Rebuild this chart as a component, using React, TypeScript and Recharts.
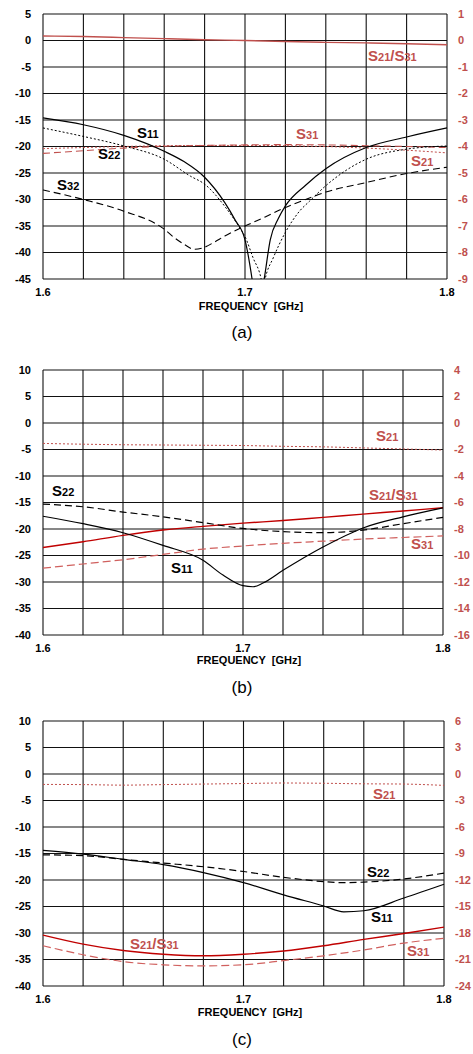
import React from "react";
import { LineChart, Line, XAxis, YAxis, CartesianGrid } from "recharts";

const FONT = '"Liberation Sans", Arial, sans-serif';
const RED_TEXT = "#c0504d";
const RED_DARK = "#c00000";

// x grid: every 20 MHz, only 1.6 / 1.7 / 1.8 are labelled
const freqTicks = [1.6, 1.62, 1.64, 1.66, 1.68, 1.7, 1.72, 1.74, 1.76, 1.78, 1.8];
const freqLabels = ["1.6", "1.7", "1.8"];
const freq = [1.6, 1.62, 1.64, 1.66, 1.68, 1.7, 1.72, 1.74, 1.76, 1.78, 1.8];

// panel (a) axes
const aLeftTicks = [-45, -40, -35, -30, -25, -20, -15, -10, -5, 0, 5];
const aRightTicks = [-9, -8, -7, -6, -5, -4, -3, -2, -1, 0, 1];

// panel (a) series, left axis [dB]
const aS11Freq = [1.6, 1.62, 1.64, 1.66, 1.67, 1.68, 1.69, 1.695, 1.7, 1.7035, 1.706, 1.7095, 1.7125, 1.7165, 1.72, 1.73, 1.74, 1.76, 1.78, 1.8];
const aS11 = [-14.6, -15.9, -17.9, -20.9, -22.9, -25.8, -30.6, -33.8, -37.6, -45, -52, -45, -37.6, -33.6, -31.2, -27.3, -24.2, -20.2, -18.2, -16.5];
const aS22Freq = [1.6, 1.62, 1.64, 1.66, 1.673, 1.68, 1.69, 1.6975, 1.7, 1.704, 1.708, 1.709, 1.71, 1.714, 1.72, 1.727, 1.732, 1.74, 1.76, 1.78, 1.8];
const aS22 = [-16.5, -18.1, -19.9, -22.4, -25.6, -27.1, -31.3, -35.4, -37.0, -41, -45, -47, -45, -41, -36.2, -32.2, -30.3, -27.4, -22.4, -20.5, -19.9];
const aS32Freq = [1.6, 1.62, 1.64, 1.66, 1.665, 1.67, 1.675, 1.68, 1.685, 1.69, 1.7, 1.71, 1.72, 1.73, 1.74, 1.76, 1.78, 1.8];
const aS32 = [-28.2, -30.0, -32.2, -35.6, -37.2, -38.5, -39.4, -39.0, -38.0, -36.9, -35.0, -33.3, -31.5, -30.0, -28.6, -26.8, -25.1, -23.9];
// panel (a) series, right axis [dB]
const aS21S31 = [0.17, 0.15, 0.11, 0.07, 0.03, 0.0, -0.04, -0.07, -0.09, -0.12, -0.16];
const aS31 = [-4.26, -4.16, -4.06, -3.99, -3.96, -3.94, -3.93, -3.94, -3.97, -4.0, -4.04];
const aS21 = [-4.08, -4.04, -4.0, -3.97, -3.96, -3.96, -3.97, -4.0, -4.06, -4.14, -4.24];

// panel (b)
const bLeftTicks = [-40, -35, -30, -25, -20, -15, -10, -5, 0, 5, 10];
const bRightTicks = [-16, -14, -12, -10, -8, -6, -4, -2, 0, 2, 4];
const bS11Freq = [1.6, 1.62, 1.64, 1.66, 1.68, 1.69, 1.7, 1.705, 1.71, 1.72, 1.74, 1.76, 1.78, 1.8];
const bS11 = [-17.6, -19.0, -20.7, -23.1, -25.9, -28.7, -30.7, -30.9, -30.2, -27.8, -23.4, -19.8, -17.7, -16.0];
const bS22 = [-15.3, -15.8, -16.8, -17.7, -18.8, -19.9, -20.5, -20.7, -20.2, -19.0, -17.8];
const bS21 = [-1.54, -1.6, -1.64, -1.66, -1.68, -1.7, -1.76, -1.8, -1.88, -1.96, -2.04];
const bS21S31 = [-9.4, -8.96, -8.48, -8.08, -7.8, -7.56, -7.36, -7.12, -6.88, -6.64, -6.4];
const bS31 = [-10.96, -10.64, -10.32, -9.92, -9.52, -9.28, -9.08, -8.92, -8.76, -8.64, -8.52];

// panel (c)
const cLeftTicks = [-40, -35, -30, -25, -20, -15, -10, -5, 0, 5, 10];
const cRightTicks = [-24, -21, -18, -15, -12, -9, -6, -3, 0, 3, 6];
const cS11Freq = [1.6, 1.62, 1.64, 1.66, 1.68, 1.7, 1.72, 1.74, 1.75, 1.76, 1.78, 1.8];
const cS11 = [-14.4, -15.1, -16.1, -17.1, -18.6, -20.5, -22.8, -24.9, -26.0, -25.8, -23.4, -20.8];
const cS22Freq = [1.6, 1.62, 1.64, 1.66, 1.68, 1.7, 1.72, 1.74, 1.75, 1.76, 1.78, 1.8];
const cS22 = [-15.25, -15.4, -16.1, -16.8, -17.5, -18.4, -19.5, -20.3, -20.5, -20.4, -19.8, -18.7];
const cS21 = [-1.18, -1.2, -1.26, -1.2, -1.14, -1.08, -1.02, -1.05, -1.11, -1.14, -1.29];
const cS21S31 = [-18.24, -19.26, -19.98, -20.4, -20.58, -20.4, -20.04, -19.44, -18.72, -18.06, -17.34];
const cS31 = [-19.44, -20.46, -21.24, -21.6, -21.72, -21.6, -21.12, -20.58, -19.92, -19.14, -18.6];

const pts = (fs: number[], vs: number[]) => fs.map((f, i) => ({ f, v: vs[i] }));

type Series = {
  name: string;
  data: { f: number; v: number }[];
  axis: "left" | "right";
  stroke: string;
  dash?: string;
  width?: number;
};

interface PanelProps {
  top: number;
  rightWidth: number;
  leftTicks: number[];
  rightTicks: number[];
  series: Series[];
  clip?: boolean;
}

const Panel: React.FC<PanelProps> = ({ top, rightWidth, leftTicks, rightTicks, series, clip }) => {
  const fmtX = (v: number) => {
    const s = v.toFixed(1);
    return Math.abs(v - Number(s)) < 1e-6 && (v < 1.61 || Math.abs(v - 1.7) < 1e-6 || v > 1.79) ? freqLabels[Math.round((v - 1.6) * 10)] : "";
  };
  return (
    <div style={{ position: "absolute", left: 0, top }}>
      <LineChart width={473} height={299} margin={{ top: 14, right: 0, bottom: 0, left: 0 }}>
        <CartesianGrid yAxisId="left" stroke="#111" strokeWidth={1.1} />
        <XAxis
          type="number"
          dataKey="f"
          domain={[1.6, 1.8]}
          ticks={freqTicks}
          interval={0}
          tickFormatter={fmtX}
          height={20}
          axisLine={false}
          tickLine={false}
          tickSize={0}
          tickMargin={9}
          tick={{ fill: "#000", fontSize: 11, fontWeight: "bold", fontFamily: FONT }}
        />
        <YAxis
          yAxisId="left"
          orientation="left"
          type="number"
          domain={[leftTicks[0], leftTicks[leftTicks.length - 1]]}
          ticks={leftTicks}
          interval={0}
          allowDataOverflow={clip}
          width={43}
          axisLine={false}
          tickLine={false}
          tickSize={0}
          tickMargin={12}
          tick={{ fill: "#000", fontSize: 11, fontWeight: "bold", fontFamily: FONT }}
        />
        <YAxis
          yAxisId="right"
          orientation="right"
          type="number"
          domain={[rightTicks[0], rightTicks[rightTicks.length - 1]]}
          ticks={rightTicks}
          interval={0}
          width={rightWidth}
          axisLine={false}
          tickLine={false}
          tickSize={0}
          tickMargin={11}
          tick={{ fill: RED_TEXT, fontSize: 11, fontWeight: "bold", fontFamily: FONT }}
        />
        {series.map((s) => (
          <Line
            key={s.name}
            name={s.name}
            data={s.data}
            dataKey="v"
            yAxisId={s.axis}
            type="monotone"
            stroke={s.stroke}
            strokeWidth={s.width ?? 1.2}
            strokeDasharray={s.dash}
            dot={false}
            activeDot={false}
            isAnimationActive={false}
          />
        ))}
      </LineChart>
    </div>
  );
};

const SLabel: React.FC<{ x: number; y: number; text: string; color?: string }> = ({ x, y, text, color = "#000" }) => {
  // "S21/S31" -> S + small digits
  const parts = text.split(/(\d+)/).filter(Boolean);
  return (
    <div
      style={{
        position: "absolute",
        left: x,
        top: y - 9,
        fontFamily: FONT,
        fontWeight: "bold",
        fontSize: 15,
        lineHeight: "18px",
        color,
        whiteSpace: "nowrap",
      }}
    >
      {parts.map((p, i) =>
        /\d/.test(p) ? (
          <span key={i} style={{ fontSize: 11 }}>{p}</span>
        ) : (
          <span key={i}>{p}</span>
        )
      )}
    </div>
  );
};

const Caption: React.FC<{ cx: number; y: number; text: string; size: number; bold?: boolean }> = ({ cx, y, text, size, bold }) => (
  <div
    style={{
      position: "absolute",
      left: cx - 100,
      width: 200,
      top: y - size * 0.6,
      textAlign: "center",
      fontFamily: FONT,
      fontSize: size,
      fontWeight: bold ? "bold" : "normal",
      lineHeight: `${Math.round(size * 1.2)}px`,
      color: "#000",
      whiteSpace: "pre",
    }}
  >
    {text}
  </div>
);

const seriesA: Series[] = [
  { name: "S21/S31", data: pts(freq, aS21S31), axis: "right", stroke: RED_TEXT, width: 1.4 },
  { name: "S31", data: pts(freq, aS31), axis: "right", stroke: RED_TEXT, dash: "7 4", width: 1.1 },
  { name: "S21", data: pts(freq, aS21), axis: "right", stroke: RED_TEXT, dash: "2 2", width: 1 },
  { name: "S11", data: pts(aS11Freq, aS11), axis: "left", stroke: "#000", width: 1.2 },
  { name: "S22", data: pts(aS22Freq, aS22), axis: "left", stroke: "#000", dash: "2 2", width: 1 },
  { name: "S32", data: pts(aS32Freq, aS32), axis: "left", stroke: "#000", dash: "7 4", width: 1.1 },
];

const seriesB: Series[] = [
  { name: "S21", data: pts(freq, bS21), axis: "right", stroke: RED_TEXT, dash: "2 2", width: 1 },
  { name: "S21/S31", data: pts(freq, bS21S31), axis: "right", stroke: RED_DARK, width: 1.4 },
  { name: "S31", data: pts(freq, bS31), axis: "right", stroke: "#d0605e", dash: "8 4", width: 1.2 },
  { name: "S11", data: pts(bS11Freq, bS11), axis: "left", stroke: "#000", width: 1.2 },
  { name: "S22", data: pts(freq, bS22), axis: "left", stroke: "#000", dash: "7 4", width: 1.2 },
];

const seriesC: Series[] = [
  { name: "S21", data: pts(freq, cS21), axis: "right", stroke: RED_TEXT, dash: "2 2", width: 1 },
  { name: "S21/S31", data: pts(freq, cS21S31), axis: "right", stroke: RED_DARK, width: 1.4 },
  { name: "S31", data: pts(freq, cS31), axis: "right", stroke: "#d0605e", dash: "8 4", width: 1.2 },
  { name: "S11", data: pts(cS11Freq, cS11), axis: "left", stroke: "#000", width: 1.2 },
  { name: "S22", data: pts(cS22Freq, cS22), axis: "left", stroke: "#000", dash: "7 4", width: 1.2 },
];

export default function App() {
  return (
    <div style={{ position: "absolute", left: 0, top: 0, width: 473, height: 1054, background: "#fff", overflow: "hidden" }}>
      <Panel top={0} rightWidth={26} leftTicks={aLeftTicks} rightTicks={aRightTicks} series={seriesA} clip />
      <Panel top={356} rightWidth={30} leftTicks={bLeftTicks} rightTicks={bRightTicks} series={seriesB} />
      <Panel top={707} rightWidth={29} leftTicks={cLeftTicks} rightTicks={cRightTicks} series={seriesC} />

      <SLabel x={368} y={56} text="S21/S31" color={RED_TEXT} />
      <SLabel x={137} y={133} text="S11" />
      <SLabel x={296} y={134} text="S31" color={RED_TEXT} />
      <SLabel x={98} y={154} text="S22" />
      <SLabel x={411} y={161} text="S21" color={RED_TEXT} />
      <SLabel x={57} y={185} text="S32" />
      <Caption cx={251} y={307} text="FREQUENCY  [GHz]" size={11} bold />
      <Caption cx={242} y={333} text="(a)" size={17} />

      <SLabel x={376} y={436} text="S21" color={RED_TEXT} />
      <SLabel x={52} y={491} text="S22" />
      <SLabel x={369} y={495} text="S21/S31" color={RED_TEXT} />
      <SLabel x={411} y={544} text="S31" color={RED_TEXT} />
      <SLabel x={171} y={568} text="S11" />
      <Caption cx={249} y={661} text="FREQUENCY  [GHz]" size={11} bold />
      <Caption cx={242} y={688} text="(b)" size={17} />

      <SLabel x={373} y={794} text="S21" color={RED_TEXT} />
      <SLabel x={367} y={872} text="S22" />
      <SLabel x={371} y={917} text="S11" />
      <SLabel x={130} y={944} text="S21/S31" color={RED_TEXT} />
      <SLabel x={407} y={951} text="S31" color={RED_TEXT} />
      <Caption cx={250} y={1013} text="FREQUENCY  [GHz]" size={11} bold />
      <Caption cx={242} y={1040} text="(c)" size={17} />
    </div>
  );
}
